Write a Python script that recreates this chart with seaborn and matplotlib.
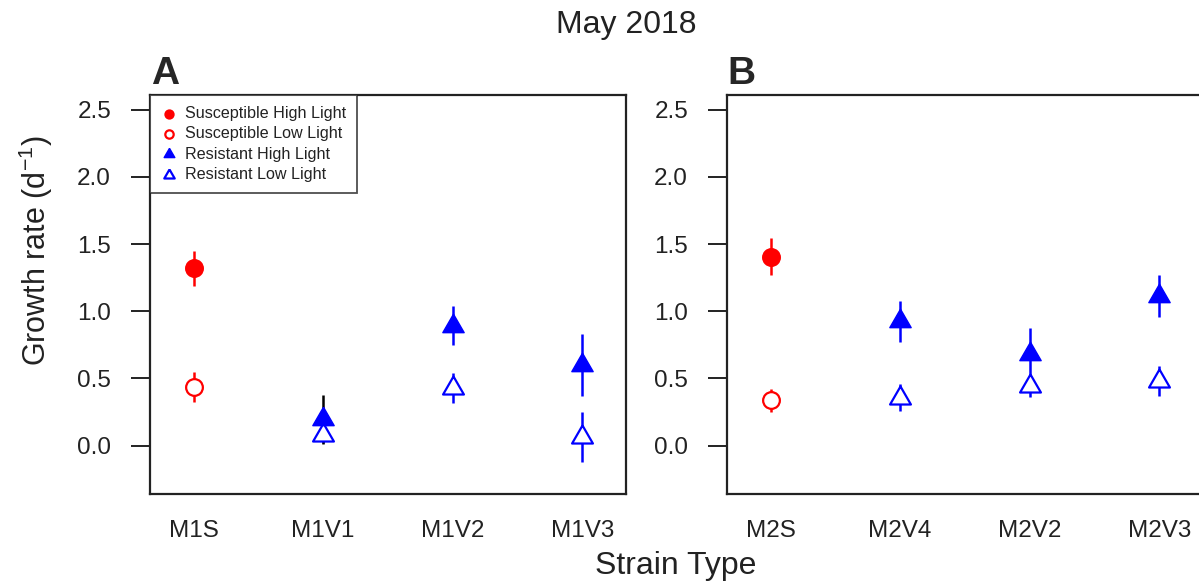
import numpy as np
import pandas as pd
import matplotlib
matplotlib.use("Agg")
import matplotlib.pyplot as plt
import seaborn as sns

# ---------------- data ----------------
strains_A = ["M1S", "M1V1", "M1V2", "M1V3"]
strains_B = ["M2S", "M2V4", "M2V2", "M2V3"]

high_A = [1.32, 0.195, 0.893, 0.602]
high_A_err = [0.13, 0.18, 0.143, 0.229]
low_A = [0.435, 0.08, 0.429, 0.065]
low_A_err = [0.11, 0.06, 0.112, 0.185]

high_B = [1.407, 0.926, 0.682, 1.113]
high_B_err = [0.136, 0.152, 0.19, 0.158]
low_B = [0.336, 0.356, 0.444, 0.481]
low_B_err = [0.086, 0.10, 0.083, 0.115]

legend_labels = ["Susceptible High Light", "Susceptible Low Light",
                 "Resistant High Light", "Resistant Low Light"]
panel_labels = ["A", "B"]
yticks = [0.0, 0.5, 1.0, 1.5, 2.0, 2.5]

RED = "#FF0000"
BLUE = "#0000FF"

sns.set_style("white")
plt.rcParams["font.family"] = ["Liberation Sans", "DejaVu Sans"]
plt.rcParams["mathtext.fontset"] = "custom"
plt.rcParams["mathtext.rm"] = "Liberation Sans"
plt.rcParams["mathtext.it"] = "Liberation Sans:italic"

W, H = 1199, 584
fig = plt.figure(figsize=(W / 100, H / 100), dpi=100)

# R-like triangle (centred on centroid)
TRI = [(0, 1.555), (1.347, -0.778), (-1.347, -0.778), (0, 1.555)]


def px_axes(left, top, right, bottom):
    return fig.add_axes([left / W, 1 - bottom / H, (right - left) / W, (bottom - top) / H])


axA = px_axes(150, 95, 626, 494)
axB = px_axes(727, 95, 1203, 494)


def draw_panel(ax, strains, hi, hi_e, lo, lo_e, hi_bar_colors):
    pos = np.arange(1, len(strains) + 1)
    df = pd.DataFrame({"strain": strains, "pos": pos,
                       "hi": hi, "hi_e": hi_e, "lo": lo, "lo_e": lo_e})
    df["kind"] = ["S"] + ["R"] * (len(strains) - 1)
    lo_colors = [RED if k == "S" else BLUE for k in df["kind"]]
    # error bars
    ax.vlines(df["pos"], df["lo"] - df["lo_e"], df["lo"] + df["lo_e"],
              colors=lo_colors, linewidth=1.8, zorder=2)
    ax.vlines(df["pos"], df["hi"] - df["hi_e"], df["hi"] + df["hi_e"],
              colors=hi_bar_colors, linewidth=1.8, zorder=2)
    s_df = df[df["kind"] == "S"]
    r_df = df[df["kind"] == "R"]
    sns.scatterplot(data=s_df, x="pos", y="hi", marker="o", s=155,
                    facecolor=RED, edgecolor=RED, linewidth=1.2,
                    ax=ax, zorder=4, label=legend_labels[0])
    sns.scatterplot(data=s_df, x="pos", y="lo", marker="o", s=145,
                    facecolor="white", edgecolor=RED, linewidth=1.6,
                    ax=ax, zorder=3, label=legend_labels[1])
    sns.scatterplot(data=r_df, x="pos", y="lo", marker=TRI, s=300,
                    facecolor="white", edgecolor=BLUE, linewidth=1.6,
                    ax=ax, zorder=3, label=legend_labels[3])
    sns.scatterplot(data=r_df, x="pos", y="hi", marker=TRI, s=315,
                    facecolor=BLUE, edgecolor=BLUE, linewidth=1.0,
                    ax=ax, zorder=4, label=legend_labels[2])

    ax.set_xlim(0.664, 4.336)
    ax.set_ylim(-0.36, 2.61)
    ax.set_xticks(pos)
    ax.set_xticklabels(strains)
    ax.set_yticks(yticks)
    ax.set_yticklabels([f"{v:.1f}" for v in yticks])
    ax.tick_params(axis="x", length=0, pad=19, labelsize=17.5, colors="#222222")
    ax.tick_params(axis="y", length=14, width=1.4, direction="out", pad=14,
                   labelsize=17.5, left=True, colors="#222222")
    ax.set_xlabel("")
    ax.set_ylabel("")
    for sp in ax.spines.values():
        sp.set_visible(True)
        sp.set_color("#222222")
        sp.set_linewidth(1.6)
    ax.grid(False)
    if ax.get_legend() is not None:
        ax.get_legend().remove()


draw_panel(axA, strains_A, high_A, high_A_err, low_A, low_A_err,
           [RED, "black", BLUE, BLUE])
draw_panel(axB, strains_B, high_B, high_B_err, low_B, low_B_err,
           [RED, BLUE, BLUE, BLUE])

# legend in panel A
handles, labels = axA.get_legend_handles_labels()
order = [labels.index(l) for l in legend_labels]
leg = axA.legend([handles[i] for i in order], [labels[i] for i in order],
                 loc="upper left", bbox_to_anchor=(0, 1), borderaxespad=0,
                 fontsize=11.6, markerscale=0.5, frameon=True, fancybox=False,
                 handlelength=1.0, handletextpad=0.45, borderpad=0.7,
                 labelspacing=0.32)
leg.get_frame().set_edgecolor("#222222")
leg.get_frame().set_linewidth(1.3)
for t in leg.get_texts():
    t.set_color("#222222")

# panel letters
fig.text(165 / W, 1 - 74 / H, panel_labels[0], fontsize=28, fontweight="bold",
         ha="center", va="center")
fig.text(741 / W, 1 - 74 / H, panel_labels[1], fontsize=28, fontweight="bold",
         ha="center", va="center")

# titles and axis labels
fig.text(626 / W, 1 - 25 / H, "May 2018", fontsize=23, ha="center", va="center",
         color="#222222")
fig.text(676 / W, 1 - 566 / H, "Strain Type", fontsize=23, ha="center", va="center",
         color="#222222")
fig.text(36 / W, 1 - 251 / H, r"Growth rate (d$^{-1}$)", fontsize=22, rotation=90,
         ha="center", va="center", color="#222222")

fig.savefig("out.png", dpi=100)
